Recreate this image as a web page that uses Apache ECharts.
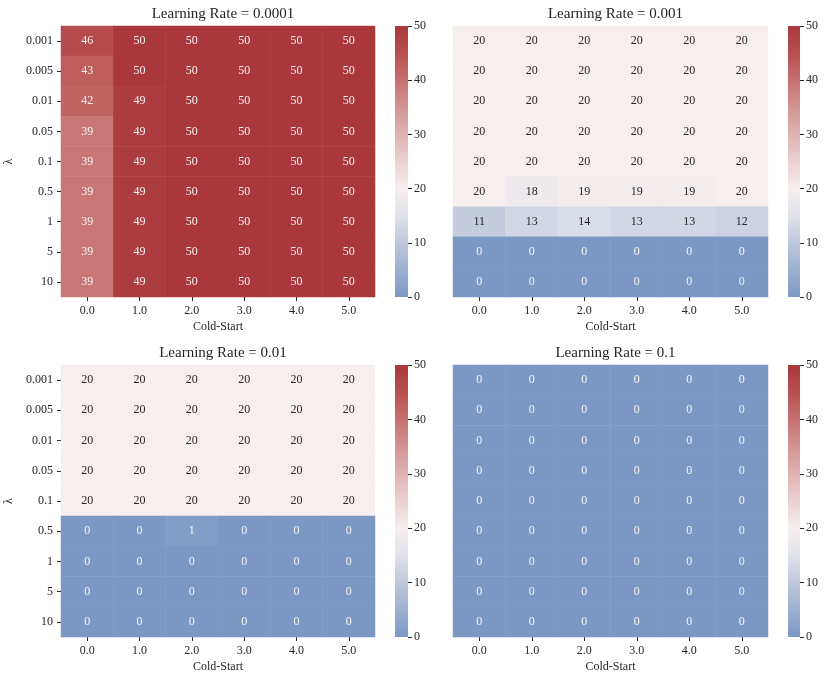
<!DOCTYPE html>
<html>
<head>
<meta charset="utf-8">
<script src="https://cdn.jsdelivr.net/npm/echarts@6/dist/echarts.min.js"></script>
<style>html,body{margin:0;padding:0;background:#fff;}#c{width:830px;height:683px;}</style>
</head>
<body>
<div id="c"></div>
<script>
// ---- data ----
const coldStart = ['0.0', '1.0', '2.0', '3.0', '4.0', '5.0'];
const lambdas = ['0.001', '0.005', '0.01', '0.05', '0.1', '0.5', '1', '5', '10'];
const cbTicks = [0, 10, 20, 30, 40, 50];
const titles = ['Learning Rate = 0.0001', 'Learning Rate = 0.001', 'Learning Rate = 0.01', 'Learning Rate = 0.1'];

const lr0001 = [
  [46, 50, 50, 50, 50, 50],
  [43, 50, 50, 50, 50, 50],
  [42, 49, 50, 50, 50, 50],
  [39, 49, 50, 50, 50, 50],
  [39, 49, 50, 50, 50, 50],
  [39, 49, 50, 50, 50, 50],
  [39, 49, 50, 50, 50, 50],
  [39, 49, 50, 50, 50, 50],
  [39, 49, 50, 50, 50, 50]
];
const lr001 = [
  [20, 20, 20, 20, 20, 20],
  [20, 20, 20, 20, 20, 20],
  [20, 20, 20, 20, 20, 20],
  [20, 20, 20, 20, 20, 20],
  [20, 20, 20, 20, 20, 20],
  [20, 18, 19, 19, 19, 20],
  [11, 13, 14, 13, 13, 12],
  [0, 0, 0, 0, 0, 0],
  [0, 0, 0, 0, 0, 0]
];
const lr01 = [
  [20, 20, 20, 20, 20, 20],
  [20, 20, 20, 20, 20, 20],
  [20, 20, 20, 20, 20, 20],
  [20, 20, 20, 20, 20, 20],
  [20, 20, 20, 20, 20, 20],
  [0, 0, 1, 0, 0, 0],
  [0, 0, 0, 0, 0, 0],
  [0, 0, 0, 0, 0, 0],
  [0, 0, 0, 0, 0, 0]
];
const lr1 = [
  [0, 0, 0, 0, 0, 0],
  [0, 0, 0, 0, 0, 0],
  [0, 0, 0, 0, 0, 0],
  [0, 0, 0, 0, 0, 0],
  [0, 0, 0, 0, 0, 0],
  [0, 0, 0, 0, 0, 0],
  [0, 0, 0, 0, 0, 0],
  [0, 0, 0, 0, 0, 0],
  [0, 0, 0, 0, 0, 0]
];
const vMin = 0, vMax = 50;

// ---- style ----
const cmap = ['#7b98c4', '#9db0d0', '#bec7db', '#e0e2ea', '#f7eeee', '#ebd0d0',
              '#dfb2b2', '#d29494', '#c5706f', '#b85050', '#a9373b'];
const FONT = '"Liberation Serif", "DejaVu Serif", serif';
const ink = '#262626';
const FS = 12;

const grids = [
  {left: 61, top: 26, width: 314, height: 271},
  {left: 453, top: 26, width: 315, height: 271},
  {left: 61, top: 365, width: 314, height: 272},
  {left: 453, top: 365, width: 315, height: 272}
];
const cbGrids = [
  {left: 395, top: 26, width: 13, height: 271},
  {left: 788, top: 26, width: 12, height: 271},
  {left: 395, top: 365, width: 13, height: 272},
  {left: 788, top: 365, width: 12, height: 272}
];
const mats = [lr0001, lr001, lr01, lr1];

const option = {
  animation: false,
  backgroundColor: '#fff',
  textStyle: {fontFamily: FONT},
  title: [], grid: [], xAxis: [], yAxis: [], series: [],
  visualMap: {
    show: false, min: vMin, max: vMax, seriesIndex: [0, 1, 2, 3],
    inRange: {color: cmap}
  }
};

mats.forEach((m, i) => {
  const g = grids[i];
  option.grid.push(Object.assign({}, g));
  option.title.push({
    text: titles[i], left: g.left + g.width / 2, textAlign: 'center',
    top: g.top - 24,
    textStyle: {fontFamily: FONT, fontSize: 15, fontWeight: 'normal', color: ink}
  });
  option.xAxis.push({
    type: 'category', data: coldStart, gridIndex: i,
    name: 'Cold-Start', nameLocation: 'middle', nameGap: 24,
    nameTextStyle: {fontFamily: FONT, fontSize: FS, color: ink},
    axisLine: {show: false},
    axisTick: {show: true, alignWithLabel: true, length: 4, lineStyle: {color: ink}},
    axisLabel: {fontFamily: FONT, fontSize: FS, color: ink, margin: 8},
    splitLine: {show: false}
  });
  const showY = (i % 2 === 0);
  option.yAxis.push({
    type: 'category', data: lambdas, gridIndex: i, inverse: true,
    name: showY ? 'λ' : '', nameLocation: 'middle', nameGap: 46, nameRotate: 90,
    nameTextStyle: {fontFamily: FONT, fontSize: FS, color: ink},
    axisLine: {show: false},
    axisTick: {show: showY, alignWithLabel: true, length: 4, lineStyle: {color: ink}},
    axisLabel: {show: showY, fontFamily: FONT, fontSize: FS, color: ink, margin: 8},
    splitLine: {show: false}
  });
  const data = [];
  m.forEach((row, r) => row.forEach((v, c) => {
    const light = v > 7 && v < 35;
    data.push({value: [c, r, v], label: {color: light ? ink : '#f6f2f4'}});
  }));
  option.series.push({
    type: 'heatmap', xAxisIndex: i, yAxisIndex: i, data: data,
    itemStyle: {borderWidth: 0.4, borderColor: 'rgba(255,255,255,0.06)'},
    label: {show: true, fontFamily: FONT, fontSize: FS, formatter: p => String(p.value[2])},
    emphasis: {disabled: true}
  });
});

// colorbars
cbGrids.forEach((g, i) => {
  const gi = 4 + i;
  option.grid.push(Object.assign({}, g));
  option.xAxis.push({
    type: 'category', data: [''], gridIndex: gi, show: false
  });
  option.yAxis.push({
    type: 'value', gridIndex: gi, min: vMin, max: vMax, interval: 10, position: 'right',
    axisLine: {show: false},
    axisTick: {show: true, length: 4, lineStyle: {color: ink}},
    axisLabel: {fontFamily: FONT, fontSize: FS, color: ink, margin: 6,
      formatter: v => cbTicks.indexOf(v) >= 0 ? String(v) : ''},
    splitLine: {show: false}
  });
  option.series.push({
    type: 'bar', xAxisIndex: gi, yAxisIndex: gi, data: [vMax], barWidth: '100%',
    silent: true,
    itemStyle: {
      color: new echarts.graphic.LinearGradient(0, 1, 0, 0,
        cmap.map((c, k) => ({offset: k / (cmap.length - 1), color: c})))
    }
  });
});

const chart = echarts.init(document.getElementById('c'), null, {renderer: 'canvas'});
chart.setOption(option);
</script>
</body>
</html>
